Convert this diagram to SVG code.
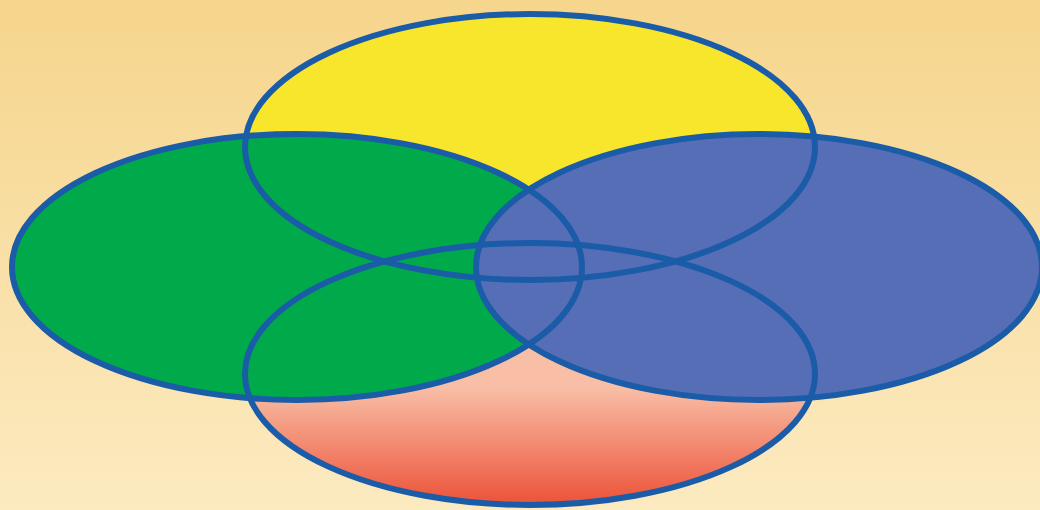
<svg xmlns="http://www.w3.org/2000/svg" width="1040" height="510" viewBox="0 0 1040 510">
<defs>
<linearGradient id="bg" x1="0" y1="0" x2="0" y2="1">
<stop offset="0" stop-color="#F6D58C"/>
<stop offset="1" stop-color="#FCEAC0"/>
</linearGradient>
<linearGradient id="red" x1="0" y1="0" x2="0" y2="1">
<stop offset="0.55" stop-color="#F8BFA6"/>
<stop offset="1" stop-color="#EC5238"/>
</linearGradient>
<style>
.o{fill:none;stroke:#1A5CA8;stroke-width:6}
</style>
</defs>
<rect width="1040" height="510" fill="url(#bg)"/>
<g id="yellow"><ellipse cx="530" cy="147" rx="285" ry="133" fill="#F8E62C"/></g>
<g id="red"><ellipse cx="530" cy="374" rx="285" ry="131" fill="url(#red)"/></g>
<g id="green"><ellipse cx="297" cy="267" rx="285" ry="133" fill="#00AA4B"/></g>
<g id="blue"><ellipse cx="759" cy="267" rx="283" ry="133" fill="#566EB6"/></g>
<g id="outlines">
<ellipse class="o" cx="530" cy="147" rx="285" ry="133"/>
<ellipse class="o" cx="530" cy="374" rx="285" ry="131"/>
<ellipse class="o" cx="297" cy="267" rx="285" ry="133"/>
<ellipse class="o" cx="759" cy="267" rx="283" ry="133"/>
</g>
</svg>
